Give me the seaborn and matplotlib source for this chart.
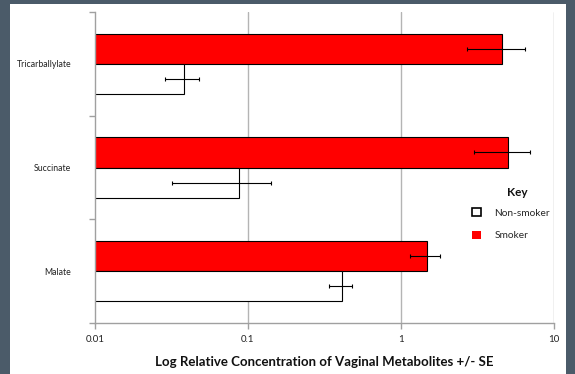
import pandas as pd
import numpy as np
import matplotlib.pyplot as plt
import seaborn as sns
from matplotlib.patches import Patch, Rectangle
from matplotlib.ticker import FixedLocator, FixedFormatter, NullLocator

# Valores
metabolitos = ['Tricarballylate', 'Succinate', 'Malate']
grupos = ['Smoker', 'Non-smoker']
smoker_media = [4.57, 5.0, 1.48]
smoker_se = [1.85, 2.0, 0.33]
nonsmoker_media = [0.038, 0.087, 0.41]
nonsmoker_se = [0.0095, 0.055, 0.07]
x_ticks = [0.01, 0.1, 1, 10]
x_tick_labels = ['0.01', '0.1', '1', '10']


def main():
    df = pd.DataFrame({
        'Metabolito': metabolitos * 2,
        'Grupo': ['Smoker'] * 3 + ['Non-smoker'] * 3,
        'Valor': smoker_media + nonsmoker_media,
        'SE': smoker_se + nonsmoker_se,
    })

    sns.set_theme(style="white")
    plt.rcParams['font.family'] = ['Lato', 'DejaVu Sans']

    fig = plt.figure(figsize=(5.75, 3.74), dpi=100)
    ax = fig.add_axes([95 / 575, 1 - 323 / 374, (554 - 95) / 575, (323 - 12) / 374])

    sns.barplot(
        data=df, y='Metabolito', x='Valor', hue='Grupo',
        order=metabolitos, hue_order=grupos,
        palette={'Smoker': '#ff0000', 'Non-smoker': 'white'},
        saturation=1, edgecolor='black', linewidth=0.8, width=0.58,
        errorbar=None, legend=False, ax=ax,
    )

    ax.set_xscale('log')
    ax.set_xlim(0.01, 10)
    ax.set_ylim(2.5, -0.5)

    # Barras de error (SE) centradas en cada barra
    for cont, grupo in zip(ax.containers, grupos):
        sub = df[df['Grupo'] == grupo].set_index('Metabolito')
        for barra in cont:
            yc = barra.get_y() + barra.get_height() / 2
            cat = metabolitos[int(round(yc))]
            ax.errorbar(sub.loc[cat, 'Valor'], yc, xerr=sub.loc[cat, 'SE'],
                        fmt='none', ecolor='black', elinewidth=0.8,
                        capsize=1.6, capthick=0.8, zorder=5)

    # Cuadrícula vertical y ejes
    for xv in x_ticks[1:]:
        ax.axvline(xv, color='#b4b4b4', linewidth=1.0, zorder=0)
    for lado in ['top', 'right']:
        ax.spines[lado].set_visible(False)
    for lado in ['left', 'bottom']:
        ax.spines[lado].set_color('#a0a0a0')
        ax.spines[lado].set_linewidth(1.0)

    ax.xaxis.set_major_locator(FixedLocator(x_ticks))
    ax.xaxis.set_major_formatter(FixedFormatter(x_tick_labels))
    ax.xaxis.set_minor_locator(NullLocator())
    ax.tick_params(axis='x', which='major', bottom=True, length=4, width=1.0,
                   color='#a0a0a0', labelsize=7, pad=4.4, labelcolor='#222222')

    ax.yaxis.set_minor_locator(FixedLocator([-0.5, 0.5, 1.5, 2.5]))
    ax.tick_params(axis='y', which='minor', left=True, length=4, width=1.0,
                   color='#a0a0a0')
    ax.tick_params(axis='y', which='major', left=False, labelsize=6.3, pad=11,
                   labelcolor='#222222')

    ax.set_ylabel('')
    ax.set_xlabel('Log Relative Concentration of Vaginal Metabolites +/- SE',
                  fontsize=9.5, fontweight='bold', labelpad=9, color='#111111')

    # Leyenda "Key"
    fig.text(517 / 575, 1 - 193 / 374, 'Key', ha='center', va='center',
             fontsize=8.5, fontweight='bold', color='#111111')
    handles = [Patch(facecolor='white', edgecolor='black', linewidth=1.2),
               Patch(facecolor='#ff0000', edgecolor='none')]
    fig.legend(handles, ['Non-smoker', 'Smoker'],
               loc='upper left', bbox_to_anchor=(472 / 575, 1 - 208 / 374),
               frameon=False, fontsize=7.3, handlelength=0.85,
               handleheight=0.85, handletextpad=1.35, labelspacing=1.3,
               borderpad=0, borderaxespad=0)

    # Marco oscuro alrededor de la figura
    marco = '#4b5b69'
    fig.patches.append(Rectangle((0, 0), 10 / 575, 1, transform=fig.transFigure,
                                 facecolor=marco, edgecolor='none'))
    fig.patches.append(Rectangle((0, 1 - 4 / 374), 1, 4 / 374, transform=fig.transFigure,
                                 facecolor=marco, edgecolor='none'))
    fig.patches.append(Rectangle((566 / 575, 0), 9 / 575, 1, transform=fig.transFigure,
                                 facecolor=marco, edgecolor='none'))

    fig.savefig('out.png', dpi=100)
    plt.close(fig)


if __name__ == "__main__":
    main()
